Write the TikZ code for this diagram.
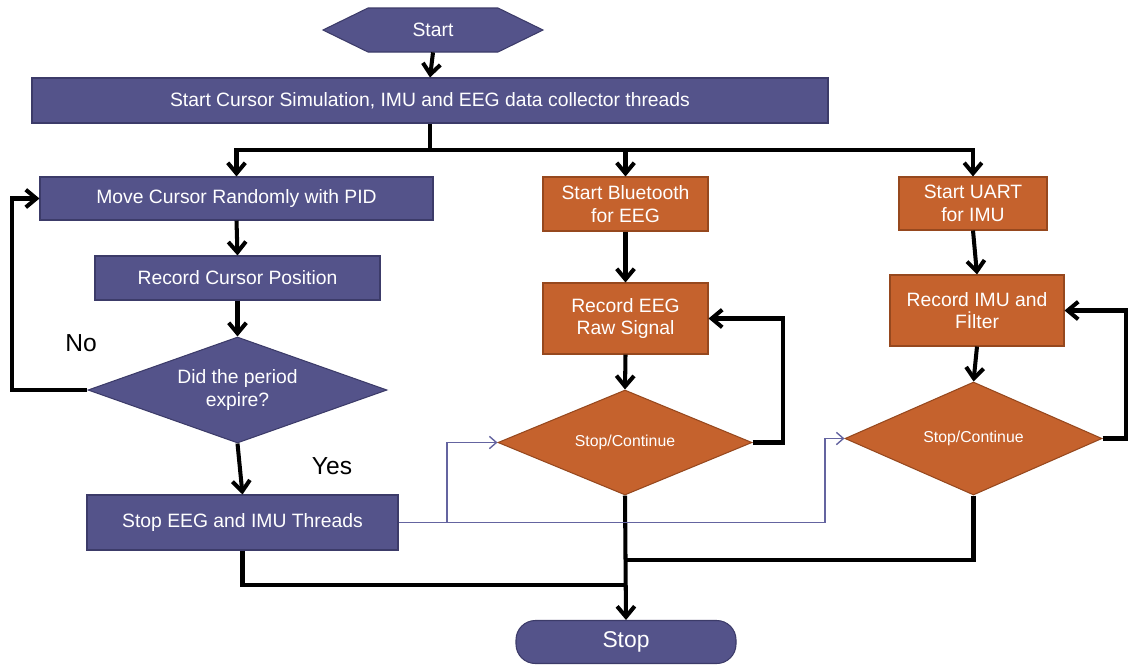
\documentclass[tikz,border=0pt]{standalone}
\usepackage{fontspec}
\setmainfont{Liberation Sans}
\usetikzlibrary{arrows.meta,shapes.geometric,calc}
\definecolor{pfill}{RGB}{84,83,138}
\definecolor{pdraw}{RGB}{60,59,105}
\definecolor{ofill}{RGB}{197,98,45}
\definecolor{odraw}{RGB}{150,72,30}
\definecolor{thinline}{RGB}{100,100,160}
\tikzset{
  pbox/.style={draw=pdraw,fill=pfill,line width=0.6pt,text=white,inner sep=0pt,align=center,font=\fontsize{11}{13}\selectfont},
  obox/.style={draw=odraw,fill=ofill,line width=0.6pt,text=white,inner sep=0pt,align=center,font=\fontsize{11}{13}\selectfont},
  odia/.style={diamond,aspect=2.3,draw=odraw,fill=ofill,line width=0.6pt,text=white,inner sep=0pt,font=\fontsize{9}{10}\selectfont},
  pdia/.style={diamond,aspect=2.8,draw=pdraw,fill=pfill,line width=0.6pt,text=white,inner sep=0pt,align=center,font=\fontsize{11}{13}\selectfont},
  conn/.style={line width=2.3pt,black},
  arr/.style={conn,-{Straight Barb[length=6pt,width=10pt,line width=2.3pt]}},
  tarr/.style={line width=0.8pt,thinline,-{Straight Barb[length=4pt,width=7pt,line width=0.8pt]}},
  tline/.style={line width=0.8pt,thinline},
  lab/.style={font=\fontsize{14}{16}\selectfont,text=black}
}
\begin{document}
\begin{tikzpicture}[x=0.02cm,y=-0.02cm]
\useasboundingbox (0,0) rectangle (1129,664);
% Start hexagon
\fill[pfill,draw=pdraw,line width=0.6pt] (323,30) -- (368,8) -- (498,8) -- (543,30) -- (498,52) -- (368,52) -- cycle;
\node[inner sep=0pt,minimum width={220*0.02cm},minimum height={44*0.02cm},text=white,font=\fontsize{11}{13}\selectfont] (start) at (433,30) {Start};
% Main bar
\node[pbox,minimum width={796*0.02cm},minimum height={45*0.02cm}] (main) at (430,100.5) {Start Cursor Simulation, IMU and EEG data collector threads};
% Left column
\node[pbox,minimum width={393*0.02cm},minimum height={43*0.02cm}] (move) at (236.5,198.5) {Move Cursor Randomly with PID};
\node[pbox,minimum width={285*0.02cm},minimum height={44*0.02cm}] (rec) at (237.5,278) {Record Cursor Position};
\node[pdia,minimum width={299*0.02cm},minimum height={106*0.02cm}] (dec) at (237.5,390) {Did the period\\expire?};
\node[pbox,minimum width={311*0.02cm},minimum height={55*0.02cm}] (stopth) at (242.5,522.5) {Stop EEG and IMU Threads};
% Middle column
\node[obox,minimum width={165*0.02cm},minimum height={54*0.02cm}] (bt) at (625.5,204) {Start Bluetooth\\for EEG};
\node[obox,minimum width={165*0.02cm},minimum height={71*0.02cm}] (reeg) at (625.5,318.5) {Record EEG\\Raw Signal};
\node[odia,minimum width={254*0.02cm},minimum height={105*0.02cm}] (deeg) at (625,442.5) {Stop/Continue};
% Right column
\node[obox,minimum width={148*0.02cm},minimum height={53*0.02cm}] (uart) at (973,203.5) {Start UART\\for IMU};
\node[obox,minimum width={174*0.02cm},minimum height={71*0.02cm}] (rimu) at (977,310.5) {Record IMU and\\Fİlter};
\node[odia,minimum width={257*0.02cm},minimum height={113*0.02cm}] (dimu) at (973.5,438.5) {Stop/Continue};
% Stop
\node[draw=pdraw,fill=pfill,line width=0.6pt,rounded corners=11pt,minimum width={220*0.02cm},minimum height={43*0.02cm},text=white,font=\fontsize{13}{15}\selectfont,inner sep=0pt] (stop) at (626,642) {Stop};
% Labels
\node[lab] (no) at (81,343) {No};
\node[lab] (yes) at (332,466) {Yes};
% Coordinates
\coordinate (bus) at (430,150);
\coordinate (noleft) at (12,390);
\coordinate (j1) at (625,585);
\coordinate (j2) at (625,560);
\coordinate (tsplit) at (447,522.5);
\coordinate (tright) at (825,522.5);
\coordinate (leeg) at (783,442.5);
\coordinate (limu) at (1126,438.5);
% Connectors
\draw[arr] (start.south) -- (main.north);
\draw[conn] (main.south) -- (bus);
\draw[arr] (bus) -| (move.north);
\draw[arr] (bus) -| (bt.north);
\draw[arr] (bus) -| (uart.north);
\draw[arr] (move.south) -- (rec.north);
\draw[arr] (rec.south) -- (dec.north);
\draw[arr] (dec.south) -- (stopth.north);
\draw[arr] (dec.west) -- (noleft) |- (move.west);
\draw[arr] (bt.south) -- (reeg.north);
\draw[arr] (reeg.south) -- (deeg.north);
\draw[arr] (deeg.east) -- (leeg) |- (reeg.east);
\draw[arr] (uart.south) -- (rimu.north);
\draw[arr] (rimu.south) -- (dimu.north);
\draw[arr] (dimu.east) -- (limu) |- (rimu.east);
\draw[arr] (deeg.south) -- (stop.north);
\draw[conn] (stopth.south) |- (j1);
\draw[conn] (dimu.south) |- (j2);
\draw[tline] (stopth.east) -- (tsplit) -- (tright);
\draw[tarr] (tsplit) |- (deeg.west);
\draw[tarr] (tright) |- (dimu.west);
\end{tikzpicture}
\end{document}
